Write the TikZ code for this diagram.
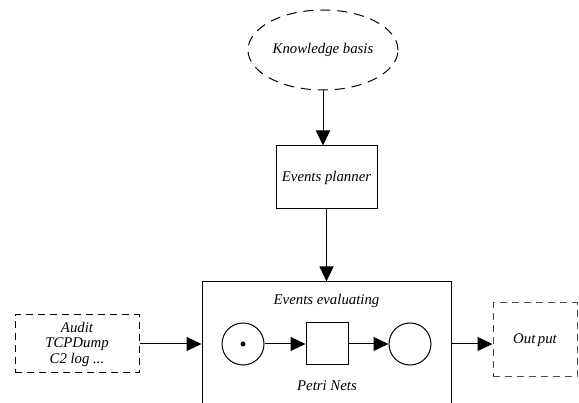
\documentclass[tikz,border=0pt]{standalone}
\usepackage{fontspec}
\setmainfont{Liberation Serif}
\usetikzlibrary{shapes.geometric,arrows.meta}
\begin{document}
\begin{tikzpicture}[x=1pt,y=-1pt,
  every node/.style={font=\fontsize{14.8}{15.5}\selectfont\itshape, inner sep=0pt},
  box/.style={draw, line width=1pt, rectangle},
  dashbox/.style={draw, line width=1pt, rectangle, dash pattern=on 7pt off 5pt},
  place/.style={draw, line width=1pt, circle, minimum size=42pt},
  flow/.style={line width=1pt, -{Triangle[length=15pt,width=14pt]}},
  lbl/.style={}]
\useasboundingbox (0,0) rectangle (579,403);

% knowledge source and planner
\node[draw, line width=1pt, ellipse, dash pattern=on 10pt off 7pt,
      minimum width=150pt, minimum height=80pt] (kb) at (323,50) {Knowledge basis};
\node[box, minimum width=101pt, minimum height=63pt] (planner) at (326.5,177.5) {Events planner};

% evaluation block (runs past the lower edge)
\node[box, minimum width=249pt, minimum height=124pt] (eval) at (326.5,344) {};
\node[lbl] (evtitle) at (326.5,301) {Events evaluating};
\node[lbl] (pntitle) at (327,386) {Petri Nets};

% Petri net
\node[place] (p1) at (243,344) {};
\node[circle, fill, minimum size=5pt] (tok) at (p1) {};
\node[box, minimum size=42pt] (t1) at (327,344) {};
\node[place] (p2) at (410,344) {};

% input and output
\node[dashbox, minimum width=124pt, minimum height=58pt, align=center] (in) at (77,344)
  {Audit\\TCPDump\\C2 log ...};
\node[dashbox, draw=black!70, minimum width=84pt, minimum height=74pt] (out) at (535,340) {Out\,put};

% connectors
\draw[flow] (kb.south) -- (kb.south |- planner.north);
\draw[flow] (planner.south) -- (eval.north);
\draw[flow] (in.east) -- (in.east -| eval.west);
\draw[flow] (p1.east) -- (t1.west);
\draw[flow] (t1.east) -- (p2.west);
\draw[flow] (eval.east) -- (eval.east -| out.west);
\end{tikzpicture}
\end{document}
